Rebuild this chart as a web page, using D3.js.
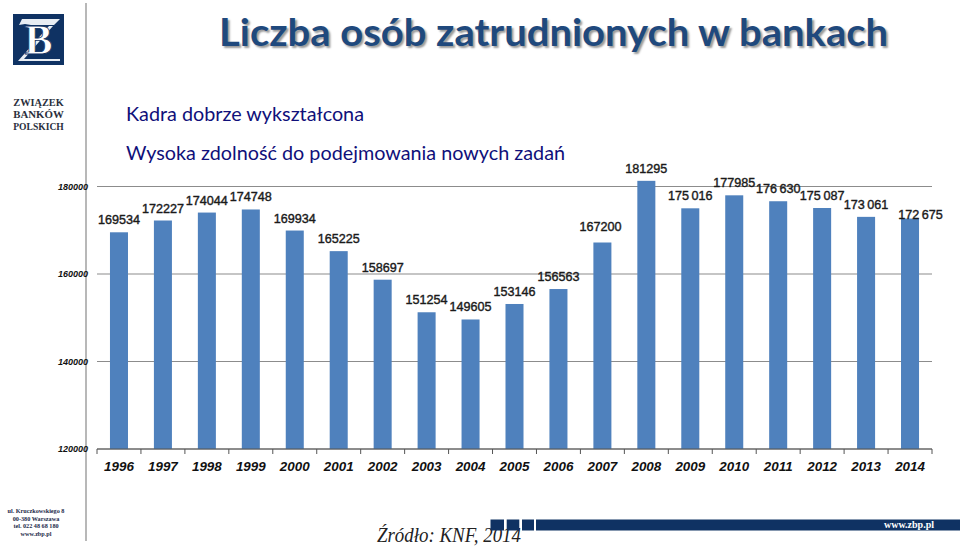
<!DOCTYPE html>
<html>
<head>
<meta charset="utf-8">
<script src="https://d3js.org/d3.v7.min.js"></script>
<style>
  html, body { margin: 0; padding: 0; background: #fff; overflow: hidden; }
  svg { display: block; }
  .val { font: 12.6px "Liberation Sans", Arial, sans-serif; fill: #1a1a1a; stroke: #1a1a1a; stroke-width: 0.4; text-anchor: middle; }
  .ytick text { font: italic bold 9px "Liberation Sans", Arial, sans-serif; fill: #111; }
  .xtick text { font: italic bold 13.4px "Liberation Sans", Arial, sans-serif; fill: #111; }
</style>
</head>
<body>
<div id="chart"></div>
<script>
const years = ['1996','1997','1998','1999','2000','2001','2002','2003','2004','2005',
  '2006','2007','2008','2009','2010','2011','2012','2013','2014'];
const employed = [169534,172227,174044,174748,169934,165225,158697,151254,149605,153146,
  156563,167200,181295,175016,177985,176630,175087,173061,172675];
const valueLabels = ['169534','172227','174044','174748','169934','165225','158697','151254','149605','153146',
  '156563','167200','181295','175\u2009016','177985','176\u2009630','175\u2009087','173\u2009061','172\u2009675'];
const yTicks = [120000,140000,160000,180000];

const width = 960, height = 546;
const svg = d3.select('#chart').append('svg').attr('width', width).attr('height', height);

// slide furniture behind the chart
svg.append('line').attr('x1', 86).attr('x2', 86).attr('y1', 3).attr('y2', 541)
  .attr('stroke', '#b8b8b8').attr('stroke-width', 2);

// chart
const x = d3.scaleBand().domain(years).range([97, 932]).paddingInner(0.59).paddingOuter(0.295);
const y = d3.scaleLinear().domain([120000, 180000]).range([449, 186.5]);

// labels were hand placed on the slide, these are the ones that moved away from the bar
const labelNudge = {
  '2007': [-2, -4],
  '2014': [10.5, 8.5]
};

svg.append('g').selectAll('line')
  .data(yTicks)
  .enter().append('line')
  .attr('x1', 97).attr('x2', 932)
  .attr('y1', d => y(d)).attr('y2', d => y(d))
  .attr('stroke', '#8c8c8c').attr('stroke-width', 1.2);

svg.append('g').attr('class', 'ytick')
  .attr('transform', 'translate(97,0)')
  .call(d3.axisLeft(y).tickValues(yTicks).tickSize(0).tickPadding(9).tickFormat(d3.format('d')))
  .call(g => g.select('.domain').remove());

svg.append('g').selectAll('rect')
  .data(employed)
  .enter().append('rect')
  .attr('x', (d, i) => x(years[i]))
  .attr('width', x.bandwidth())
  .attr('y', d => y(d))
  .attr('height', d => y(120000) - y(d))
  .attr('fill', '#4f81bd');

const xAxis = svg.append('g').attr('class', 'xtick')
  .attr('transform', 'translate(0,449)')
  .call(d3.axisBottom(x).tickSize(0).tickPadding(12))
  .call(g => g.select('.domain').remove());

xAxis.append('line').attr('x1', 97).attr('x2', 932).attr('stroke', '#555');
const step = x.step();
xAxis.selectAll('.bound')
  .data(d3.range(years.length + 1))
  .enter().append('line').attr('class', 'bound')
  .attr('x1', i => 97 + i * step).attr('x2', i => 97 + i * step)
  .attr('y1', 0).attr('y2', 5)
  .attr('stroke', '#555');

svg.append('g').selectAll('text')
  .data(employed)
  .enter().append('text')
  .attr('class', 'val')
  .attr('x', (d, i) => x(years[i]) + x.bandwidth() / 2 + (labelNudge[years[i]] || [0, 0])[0])
  .attr('y', (d, i) => y(d) - 8 + (labelNudge[years[i]] || [0, 0])[1])
  .text((d, i) => valueLabels[i]);

// title
svg.append('text').attr('x', 219).attr('y', 46)
  .attr('textLength', 669)
  .attr('lengthAdjust', 'spacingAndGlyphs')
  .style('font', 'bold 38px Lato, sans-serif')
  .style('text-shadow', '2px 2px 2px rgba(0,0,0,0.4)')
  .attr('fill', '#1f497d')
  .text('Liczba osób zatrudnionych w bankach');

const subtitles = ['Kadra dobrze wykształcona', 'Wysoka zdolność do podejmowania nowych zadań'];
svg.append('g').selectAll('text')
  .data(subtitles)
  .enter().append('text')
  .attr('x', 126)
  .attr('y', (d, i) => 120.7 + i * 39)
  .style('font', '19.8px Lato, sans-serif')
  .attr('fill', '#10107a')
  .text(d => d);

// logo
const logo = svg.append('g');
logo.append('rect').attr('x', 13).attr('y', 14).attr('width', 51).attr('height', 51).attr('fill', '#0f3263');
logo.append('path').attr('d', 'M22 19H60L54 25H31L25 24L19 25ZM53 26L24 59H60V61H18L49 26Z').attr('fill', '#e8edf3');
logo.append('text').attr('x', 38.5).attr('y', 54).attr('text-anchor', 'middle')
  .style('font', 'bold 42px "Liberation Serif", serif')
  .attr('fill', '#fff').attr('stroke', '#0f3263').attr('stroke-width', 0.8)
  .text('B');

const logoLines = ['ZWIĄZEK', 'BANKÓW', 'POLSKICH'];
svg.append('g').selectAll('text')
  .data(logoLines)
  .enter().append('text')
  .attr('x', 38.5)
  .attr('y', (d, i) => 106 + i * 12)
  .attr('text-anchor', 'middle')
  .attr('textLength', 50.5)
  .attr('lengthAdjust', 'spacingAndGlyphs')
  .style('font', 'bold 10.5px "Liberation Serif", serif')
  .attr('fill', '#2a2f3d')
  .text(d => d);

// footer
const address = ['ul. Kruczkowskiego 8', '00-380 Warszawa', 'tel. 022 48 68 180', 'www.zbp.pl'];
svg.append('g').selectAll('text')
  .data(address)
  .enter().append('text')
  .attr('x', 36)
  .attr('y', (d, i) => 513 + i * 7.5)
  .attr('text-anchor', 'middle')
  .style('font', 'bold 6.2px "Liberation Serif", serif')
  .attr('fill', '#1b2a4a')
  .text(d => d);

svg.append('text').attr('x', 377).attr('y', 541.5)
  .attr('textLength', 144)
  .attr('lengthAdjust', 'spacingAndGlyphs')
  .style('font', 'italic 20px "Liberation Serif", serif')
  .attr('fill', '#222')
  .text('Źródło: KNF, 2014');

const footerBar = [[490.5, 13.5], [506.7, 12.6], [522, 12], [536, 424]];
svg.append('g').selectAll('rect')
  .data(footerBar)
  .enter().append('rect')
  .attr('x', d => d[0]).attr('width', d => d[1])
  .attr('y', 519.5).attr('height', 11)
  .attr('fill', '#0f3263');

svg.append('text').attr('x', 884).attr('y', 528)
  .style('font', 'bold 10px "Liberation Serif", serif')
  .attr('fill', '#fff')
  .text('www.zbp.pl');
</script>
</body>
</html>
